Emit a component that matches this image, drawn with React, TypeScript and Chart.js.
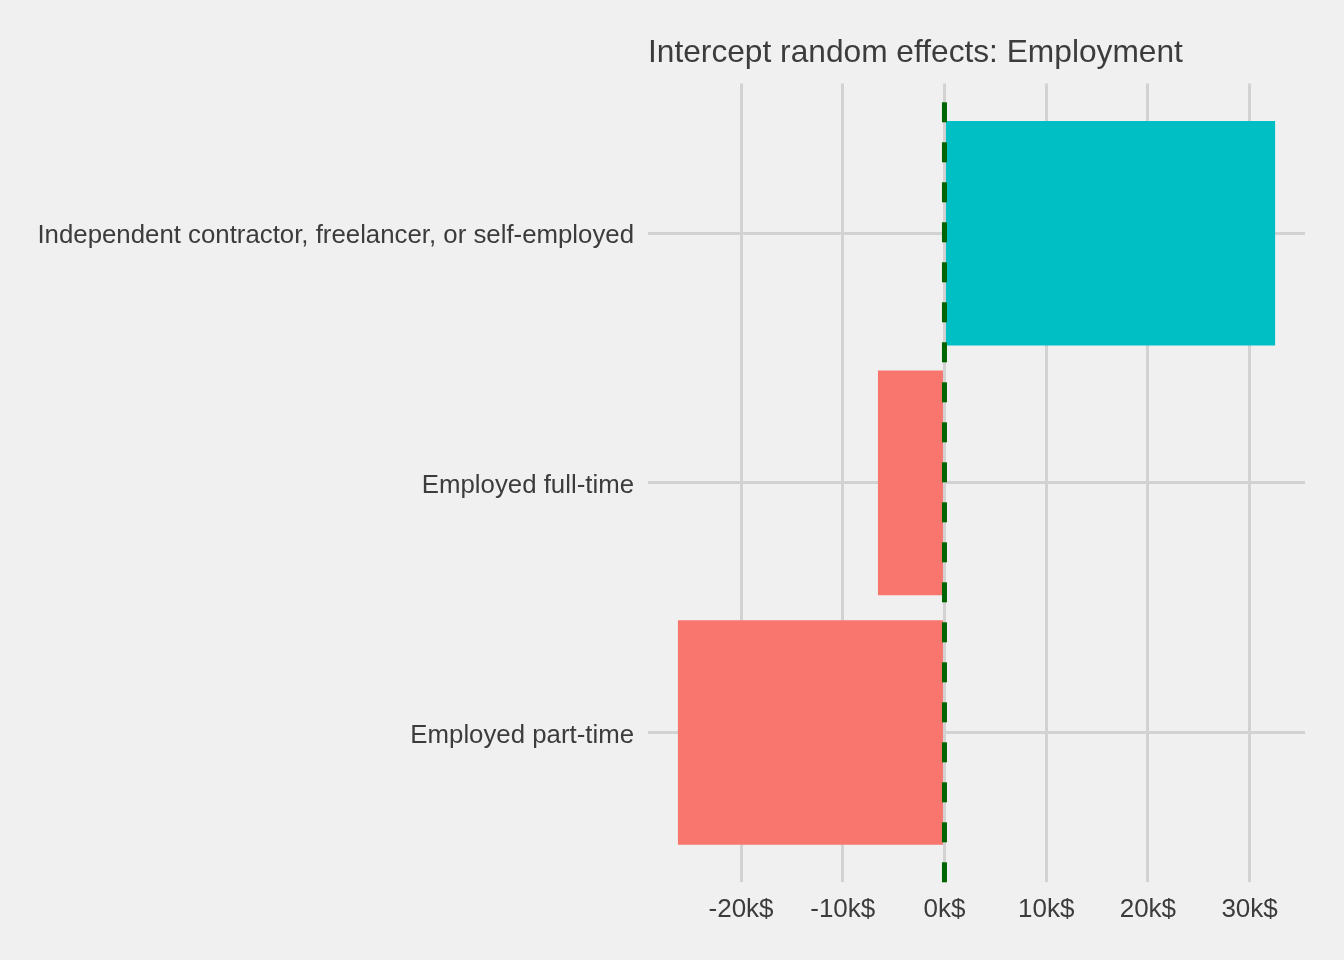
import { useEffect, useRef } from "react";
import { Chart, registerables } from "chart.js";

Chart.register(...registerables);

const titleText = "Intercept random effects: Employment";
const categories = [
  "Independent contractor, freelancer, or self-employed",
  "Employed full-time",
  "Employed part-time",
];
const effects = [32510, -6540, -26210];
const xTickValues = [-20000, -10000, 0, 10000, 20000, 30000];
const xMin = -29150;
const xMax = 35450;
const referenceValue = 0;

const FONT = "'Liberation Sans', Arial, sans-serif";
const TEXT = "#3c3c3c";
const GRID = "#d2d2d2";
const BG = "#f0f0f0";
const POS = "#00bfc4";
const NEG = "#f8766d";
const REF = "#006400";

export default function App() {
  const ref = useRef<HTMLCanvasElement | null>(null);

  useEffect(() => {
    const canvas = ref.current;
    if (!canvas) return;
    const n = categories.length;
    const positions = categories.map((_, i) => n - i);

    const bgPlugin = {
      id: "bg",
      beforeDraw(chart: any) {
        const c = chart.ctx;
        c.save();
        c.fillStyle = BG;
        c.fillRect(0, 0, chart.width, chart.height);
        c.restore();
      },
    };

    const titlePlugin = {
      id: "leftTitle",
      afterDraw(chart: any) {
        const c = chart.ctx;
        c.save();
        c.font = `31.7px ${FONT}`;
        c.fillStyle = TEXT;
        c.textAlign = "left";
        c.textBaseline = "middle";
        c.fillText(titleText, chart.chartArea.left, 53);
        c.restore();
      },
    };

    const refLinePlugin = {
      id: "refLine",
      afterDatasetsDraw(chart: any) {
        const c = chart.ctx;
        const x = chart.scales.x.getPixelForValue(referenceValue);
        const { top, bottom } = chart.chartArea;
        c.save();
        c.strokeStyle = REF;
        c.lineWidth = 5;
        c.setLineDash([20, 20]);
        c.beginPath();
        c.moveTo(x, bottom);
        c.lineTo(x, top);
        c.stroke();
        c.restore();
      },
    };

    const chart = new Chart(canvas, {
      type: "bar",
      data: {
        datasets: [
          {
            data: effects.map((v, i) => ({ x: v, y: positions[i] })),
            backgroundColor: effects.map((v) => (v > 0 ? POS : NEG)),
            borderWidth: 0,
            barPercentage: 0.9,
            categoryPercentage: 1,
          },
        ],
      },
      options: {
        indexAxis: "y",
        responsive: false,
        animation: false,
        devicePixelRatio: 1,
        layout: { padding: { top: 83.5, right: 39, left: 0, bottom: 0 } },
        plugins: {
          legend: { display: false },
          title: { display: false },
          tooltip: { enabled: false },
        },
        scales: {
          x: {
            type: "linear",
            min: xMin,
            max: xMax,
            afterBuildTicks(scale: any) {
              scale.ticks = xTickValues.map((v) => ({ value: v }));
            },
            afterFit(scale: any) {
              scale.height = 77.7;
            },
            ticks: {
              font: { family: FONT, size: 26 },
              color: TEXT,
              padding: 12,
              maxRotation: 0,
              callback: (v: any) => `${Math.round(Number(v) / 1000)}k$`,
            },
            grid: { color: GRID, lineWidth: 3, drawTicks: false },
            border: { display: false },
          },
          y: {
            type: "linear",
            min: 0.4,
            max: 3.6,
            offset: false,
            afterBuildTicks(scale: any) {
              scale.ticks = positions.map((p) => ({ value: p }));
            },
            afterFit(scale: any) {
              scale.width = 648;
            },
            ticks: {
              font: { family: FONT, size: 25.8 },
              color: TEXT,
              padding: 14,
              labelOffset: 3,
              callback: (v: any) => categories[n - Number(v)],
            },
            grid: { color: GRID, lineWidth: 3, drawTicks: false, offset: false },
            border: { display: false },
          },
        },
      },
      plugins: [bgPlugin, titlePlugin, refLinePlugin],
    } as any);

    return () => chart.destroy();
  }, []);

  return (
    <div style={{ position: "absolute", left: 0, top: 0, width: 1344, height: 960, background: BG }}>
      <canvas ref={ref} width={1344} height={960} />
    </div>
  );
}
